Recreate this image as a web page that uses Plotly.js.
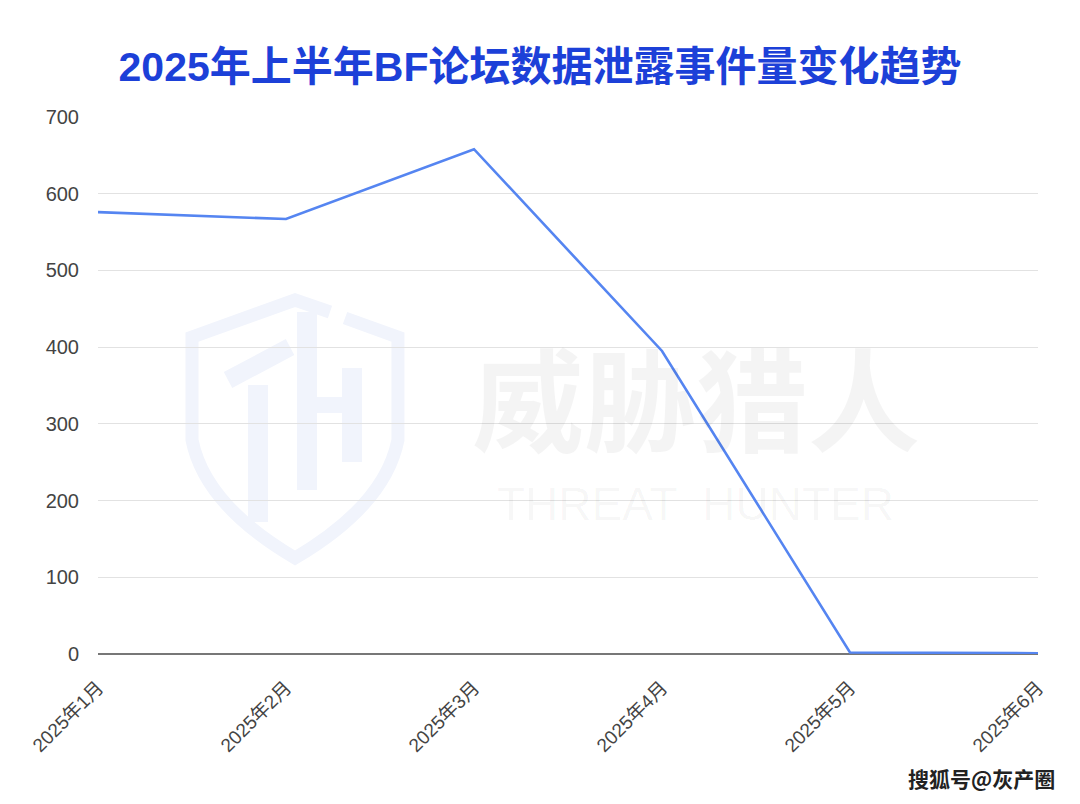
<!DOCTYPE html>
<html><head><meta charset="utf-8">
<script src="https://cdn.plot.ly/plotly-3.0.1.min.js"></script>
<style>html,body{margin:0;padding:0;background:#fff}#c{width:1080px;height:804px}</style>
</head><body><div id="c"></div>
<script>
const months = ["2025年1月","2025年2月","2025年3月","2025年4月","2025年5月","2025年6月"];
const counts = [576, 567, 658, 395, 2, 1];
const yTicks = [0,100,200,300,400,500,600,700];

const font = "'Liberation Sans', Arial, 'Noto Sans CJK SC', sans-serif";
const M = {l: 98, r: 42, t: 117, b: 150}, W = 1080, H = 804;
// pixel -> paper helper for decorative watermark only
const px = (x, y) => ((x - M.l) / (W - M.l - M.r)).toFixed(4) + "," + ((H - M.b - y) / (H - M.t - M.b)).toFixed(4);
const wm = "#f1f4fc";
const shieldShapes = [
  {path: "M" + px(330,312) + " L" + px(295,300) + " L" + px(192,337) + " L" + px(192,440) + " Q" + px(205,505) + " " + px(295,558) + " Q" + px(385,505) + " " + px(398,440) + " L" + px(398,337) + " L" + px(345,318), w: 13},
  {path: "M" + px(228,380) + " L" + px(290,347), w: 18},
  {path: "M" + px(258,385) + " L" + px(258,522), w: 20},
  {path: "M" + px(307,312) + " L" + px(307,490), w: 20},
  {path: "M" + px(352,368) + " L" + px(352,462), w: 20},
  {path: "M" + px(307,405) + " L" + px(352,405), w: 16}
].map(s => ({type: "path", xref: "paper", yref: "paper", layer: "below", path: s.path,
  line: {color: wm, width: s.w}}));

const trace = {
  x: months, y: counts, type: "scatter", mode: "lines",
  line: {color: "#5585f1", width: 2.6},
  hoverinfo: "skip"
};
const layout = {
  width: W, height: H,
  margin: M,
  paper_bgcolor: "#fff", plot_bgcolor: "rgba(0,0,0,0)",
  showlegend: false,
  title: {text: "<b>2025年上半年BF论坛数据泄露事件量变化趋势</b>", x: 0.5, xanchor: "center", y: 0.917, yanchor: "middle",
    font: {family: font, size: 41, color: "#1c40d8"}},
  xaxis: {type: "category", range: [0, 5], tickangle: -45, showgrid: false, zeroline: false,
    showline: false, ticks: "outside", ticklen: 14, tickcolor: "rgba(0,0,0,0)",
    tickfont: {family: font, size: 19, color: "#444"}},
  yaxis: {range: [0, 700], tickvals: yTicks, showgrid: true, gridcolor: "#e2e2e2", gridwidth: 1.2,
    zeroline: true, zerolinecolor: "#777", zerolinewidth: 1.5, showline: false, ticks: "outside",
    ticklen: 14, tickcolor: "rgba(0,0,0,0)", tickfont: {family: font, size: 20, color: "#444"}},
  shapes: shieldShapes,
  annotations: [
    {text: "<b>威胁猎人</b>", xref: "paper", yref: "paper", x: 0.636, y: 0.482, xanchor: "center", yanchor: "middle", showarrow: false,
     font: {family: "'Noto Sans CJK SC', sans-serif", size: 112, color: "rgba(0,0,0,0.045)"}},
    {text: "THREAT  HUNTER", xref: "paper", yref: "paper", x: 0.636, y: 0.28, xanchor: "center", yanchor: "middle", showarrow: false,
     font: {family: "'Liberation Sans', sans-serif", size: 46, color: "rgba(0,0,0,0.04)"}},
    {text: "<b>搜狐号@灰产圈</b>", xref: "paper", yref: "paper", x: 1.02, y: -0.231, xanchor: "right", yanchor: "middle", showarrow: false,
     font: {family: "'Noto Sans CJK SC', sans-serif", size: 21, color: "#222"}}
  ]
};
Plotly.newPlot("c", [trace], layout, {displayModeBar: false, staticPlot: true});
</script></body></html>
